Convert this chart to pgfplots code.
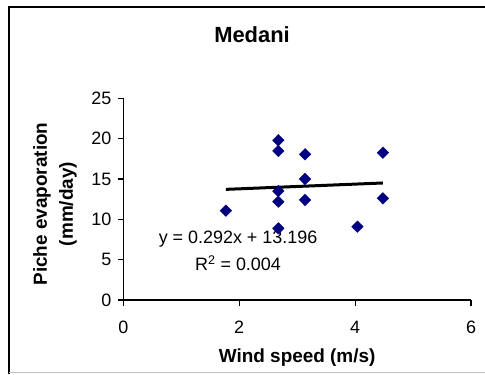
\documentclass[border=0pt]{standalone}
\usepackage{pgfplots}
\pgfplotsset{compat=1.18}
\usepackage{fontspec}
\setmainfont{Liberation Sans}
\definecolor{navy}{RGB}{0,0,128}
\begin{document}
\begin{tikzpicture}[x=1bp,y=1bp]
\useasboundingbox (0,0) rectangle (485,374);
\draw[line width=2bp] (9,0) -- (9,366.5) -- (485,366.5);
\draw[gray!50, line width=1bp] (9,2) -- (485,2);
\node[font=\fontsize{22}{26}\selectfont\bfseries] at (252,339) {Medani};
\begin{axis}[
  at={(123.3bp,74bp)}, anchor=south west,
  width=347.7bp, height=201.7bp, scale only axis,
  xmin=0,xmax=6,ymin=0,ymax=25,
  xtick={0,2,4,6}, ytick={0,5,10,15,20,25},
  axis x line*=bottom, axis y line*=left,
  axis line style={line width=1.2bp,-},
  tick align=outside, major tick length=5.5bp,
  tick style={black,line width=1.2bp},
  ticklabel style={font=\fontsize{18}{20}\selectfont},
  xticklabel style={yshift=-12bp},
  yticklabel style={xshift=-3bp},
  /pgf/number format/assume math mode=true,
  xlabel={Wind speed (m/s)},
  ylabel={Piche evaporation\\(mm/day)},
  xlabel style={font=\fontsize{19}{26}\selectfont\bfseries, at={(axis description cs:0.5,-0.288)}, anchor=center},
  ylabel style={font=\fontsize{19}{26}\selectfont\bfseries, align=center, at={(axis description cs:-0.1964,0.476)}, anchor=center},
  clip=false,
]
\addplot[only marks, mark=diamond*, mark size=5.8bp, mark options={xscale=1.33, fill=navy, draw=navy}] coordinates {
(1.77,11.07) (2.675,19.8) (2.675,18.47) (2.675,13.5) (2.675,12.19) (2.675,8.88)
(3.136,18.06) (3.136,15.0) (3.136,12.4) (4.04,9.09) (4.48,18.26) (4.48,12.6)
};
\addplot[black, line width=3bp] coordinates {(1.77,13.713) (4.48,14.504)};
\node[align=center, font=\fontsize{18}{27}\selectfont] at (axis cs:1.98,6.1) {y = 0.292x + 13.196\\R\textsuperscript{2} = 0.004};
\end{axis}
\end{tikzpicture}
\end{document}
